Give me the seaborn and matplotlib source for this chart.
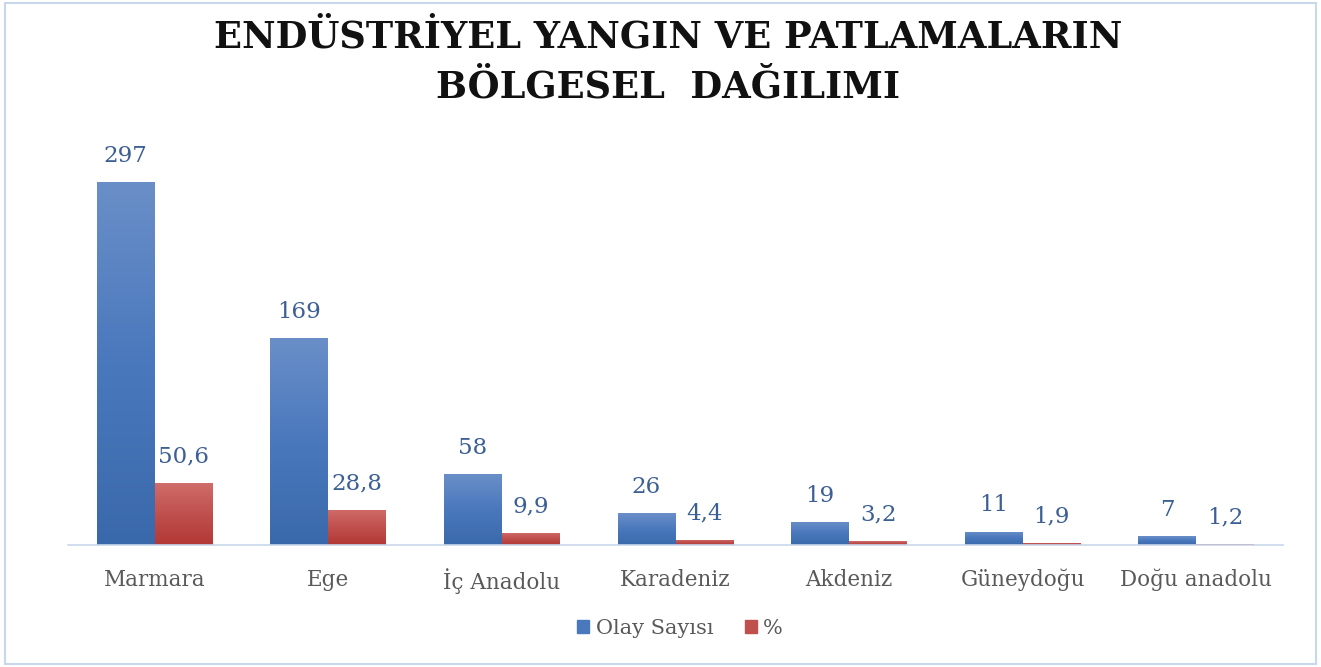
import numpy as np
import pandas as pd
import matplotlib
matplotlib.use("Agg")
import matplotlib.pyplot as plt
import seaborn as sns
from matplotlib.colors import LinearSegmentedColormap
from matplotlib.patches import Rectangle

regions = ["Marmara", "Ege", "İç Anadolu", "Karadeniz", "Akdeniz", "Güneydoğu", "Doğu anadolu"]
olay_sayisi = [297, 169, 58, 26, 19, 11, 7]
yuzde = [50.6, 28.8, 9.9, 4.4, 3.2, 1.9, 1.2]
yuzde_labels = ["50,6", "28,8", "9,9", "4,4", "3,2", "1,9", "1,2"]
series_names = ["Olay Sayısı", "%"]

df = pd.DataFrame({
    "Bölge": regions * 2,
    "Seri": [series_names[0]] * len(regions) + [series_names[1]] * len(regions),
    "Değer": olay_sayisi + yuzde,
})

sns.set_theme(style="white")
plt.rcParams["font.family"] = ["DejaVu Serif"]

blue = "#4a78bd"
red = "#c0504d"
fig = plt.figure(figsize=(13.21, 6.67), dpi=100)
ax = fig.add_axes([68 / 1321, 1 - 545 / 667, 1215 / 1321, 405 / 667])

sns.barplot(data=df, x="Bölge", y="Değer", hue="Seri", palette=[blue, red],
            width=0.668, gap=0, ax=ax, legend=False, saturation=1)

ax.set_ylim(0, 405 / 1.222)
ax.set_xlim(-0.5, len(regions) - 0.5)

grads = {
    0: LinearSegmentedColormap.from_list("b", ["#3a69ab", "#4a78bd", "#6a8fc8"]),
    1: LinearSegmentedColormap.from_list("r", ["#b23835", "#c0504d", "#d06c6a"]),
}
grad = np.linspace(0, 1, 256).reshape(-1, 1)
n = len(regions)
for i, p in enumerate(ax.patches[:2 * n]):
    s = i // n
    x0, y0 = p.get_x(), p.get_y()
    w, h = p.get_width(), p.get_height()
    im = ax.imshow(grad, cmap=grads[s], aspect="auto", origin="lower",
                   extent=[x0, x0 + w, 0, max(h, 1e-6)], zorder=2, interpolation="bilinear")
    im.set_clip_path(p)
    p.set_facecolor("none")
    p.set_edgecolor("none")

lab_color = "#3c5f94"
for c, labels in zip(ax.containers, [[str(v) for v in olay_sayisi], yuzde_labels]):
    ax.bar_label(c, labels=labels, padding=11, fontsize=16.5, color=lab_color)

for s in ["top", "right", "left"]:
    ax.spines[s].set_visible(False)
ax.spines["bottom"].set_color("#c9d7ea")
ax.spines["bottom"].set_linewidth(1.2)
ax.set_yticks([])
ax.set_xlabel("")
ax.set_ylabel("")
ax.tick_params(axis="x", length=0, pad=17, labelsize=15.5, labelcolor="#595959")

fig.text(0.506, 1 - 37 / 667, "ENDÜSTRİYEL YANGIN VE PATLAMALARIN", ha="center", va="center",
         fontsize=26.5, fontweight="bold", color="#111111")
fig.text(0.506, 1 - 88 / 667, "BÖLGESEL  DAĞILIMI", ha="center", va="center",
         fontsize=26.5, fontweight="bold", color="#111111")

handles = [Rectangle((0, 0), 1, 1, color=blue), Rectangle((0, 0), 1, 1, color=red)]
fig.legend(handles, series_names, loc="center", bbox_to_anchor=(680 / 1321, 1 - 628 / 667),
           ncol=2, frameon=False, fontsize=15, handlelength=0.6, handleheight=0.6,
           handletextpad=0.3, columnspacing=1.5, labelcolor="#595959")

fig.patches.append(Rectangle((0.004, 0.004), 0.992, 0.992, transform=fig.transFigure,
                             fill=False, edgecolor="#c9d7ea", linewidth=1.5))

fig.savefig("out.png", dpi=100)
